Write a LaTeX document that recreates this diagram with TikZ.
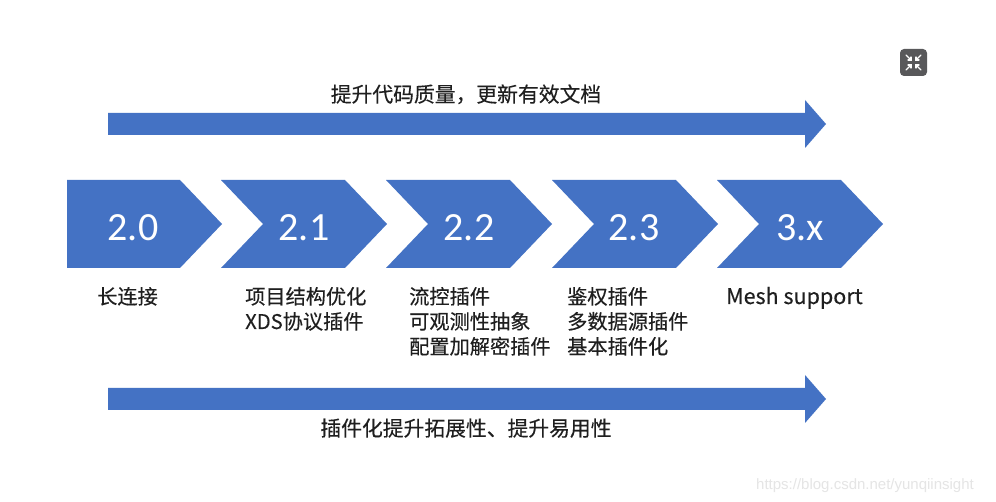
\documentclass[tikz,border=0pt]{standalone}
\usepackage{fontspec}
\setmainfont{Carlito}
\newfontfamily\cjk[FakeBold=0.3]{Noto Sans CJK SC}
\newfontfamily\wmfont{Liberation Sans}
\definecolor{obl}{HTML}{4472C4}
\definecolor{icongray}{HTML}{58585A}
\begin{document}
\begin{tikzpicture}[x=1pt,y=-1pt,
  vernum/.style={text=white,font=\fontsize{40}{40}\selectfont,inner sep=0pt},
  feat/.style={anchor=base west,inner sep=0pt,font=\cjk\fontsize{20.2}{25}\selectfont,text=black!88},
  banner/.style={anchor=base,inner sep=0pt,font=\cjk\fontsize{20.8}{25}\selectfont,text=black!88}]
\useasboundingbox[fill=white] (0,0) rectangle (996,502);

% top arrow
\fill[obl] (108,113) -- (805,113) -- (805,100) -- (826,124) -- (805,148) -- (805,135) -- (108,135) -- cycle;
\node[banner] (toptext) at (466,102) {提升代码质量，更新有效文档};

% chevrons
\fill[obl] (67,180) -- (180,180) -- (222,224) -- (180,268) -- (67,268) -- cycle;
\foreach \x in {221,386,552,717}{
  \fill[obl] (\x,180) -- (\x+124,180) -- (\x+166,224) -- (\x+124,268) -- (\x,268) -- (\x+42,224) -- cycle;
}
\node[vernum] (v20) at (133,228) {2.0};
\node[vernum] (v21) at (304,228) {2.1};
\node[vernum] (v22) at (469,228) {2.2};
\node[vernum] (v23) at (634,228) {2.3};
\node[vernum] (v3x) at (800,228) {3.x};

% feature lists
\node[feat] (f20a) at (97,304) {长连接};
\node[feat] (f21a) at (245,304) {项目结构优化};
\node[feat] (f21b) at (245,329) {XDS协议插件};
\node[feat] (f22a) at (409,304) {流控插件};
\node[feat] (f22b) at (409,329) {可观测性抽象};
\node[feat] (f22c) at (409,354) {配置加解密插件};
\node[feat] (f23a) at (567,304) {鉴权插件};
\node[feat] (f23b) at (567,329) {多数据源插件};
\node[feat] (f23c) at (567,354) {基本插件化};
\node[feat,font=\cjk\fontsize{21.5}{25}\selectfont] (f3xa) at (726,304) {Mesh support};

% bottom arrow
\fill[obl] (108,388) -- (805,388) -- (805,375) -- (826,399) -- (805,423) -- (805,410) -- (108,410) -- cycle;
\node[banner] (bottext) at (466,436) {插件化提升拓展性、提升易用性};

% icon
\fill[icongray,rounded corners=4pt] (900,49) rectangle (927,76);
\begin{scope}[white,line width=1.3pt,line cap=round]
  \draw (906,55) -- (911,60); \draw (908,60) -- (911,60) -- (911,57);
  \draw (921,55) -- (916,60); \draw (919,60) -- (916,60) -- (916,57);
  \draw (906,70) -- (911,65); \draw (908,65) -- (911,65) -- (911,68);
  \draw (921,70) -- (916,65); \draw (919,65) -- (916,65) -- (916,68);
\end{scope}

% watermark
\node[anchor=base west,inner sep=0pt,text=black!10,font=\wmfont\fontsize{15}{15}\selectfont] (wm) at (756,489) {https://blog.csdn.net/yunqiinsight};
\end{tikzpicture}
\end{document}
